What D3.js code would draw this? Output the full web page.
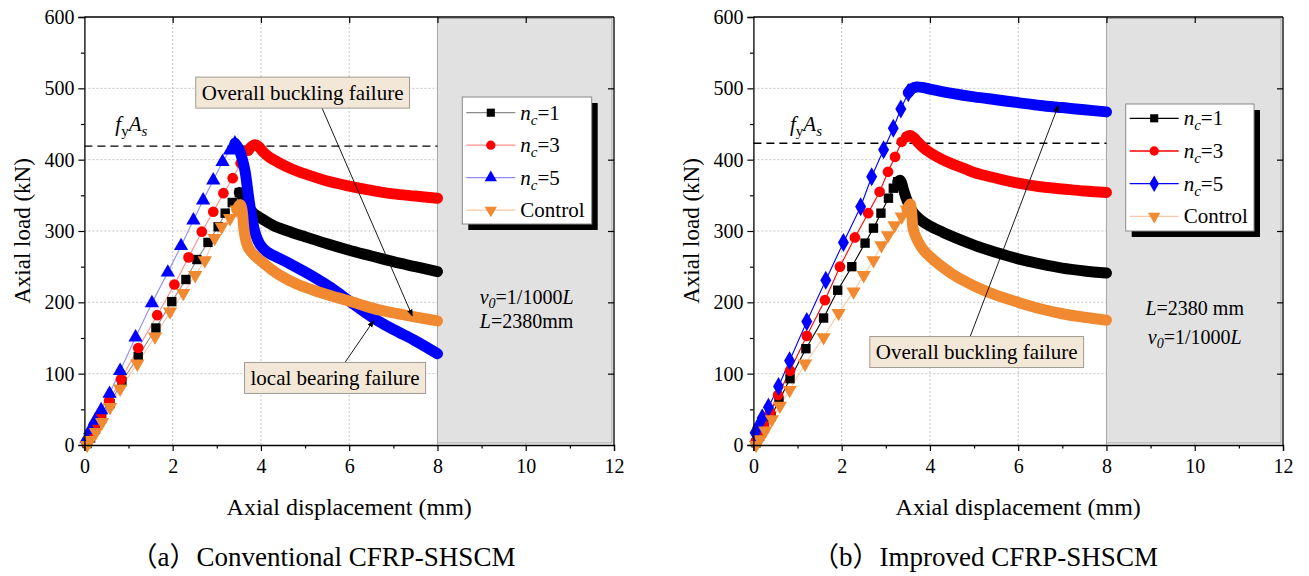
<!DOCTYPE html>
<html><head><meta charset="utf-8">
<script src="https://cdn.jsdelivr.net/npm/d3@7"></script>
<style>
body{margin:0;background:#fff}
svg{display:block}
svg text{font-family:"Liberation Serif","Tinos","Times New Roman","DejaVu Serif","Noto Serif",serif;fill:#000}
</style>
</head><body><svg id="c" width="1309" height="576"></svg>
<script>
// ---------------- data ----------------
const xTicks = [0, 2, 4, 6, 8, 10, 12];
const yTicks = [0, 100, 200, 300, 400, 500, 600];
const seriesLabels = ["1", "3", "5", "Control"];

// (a) Conventional CFRP-SHSCM  [displacement mm, load kN]
const aN1Rise = [[0.06,2],[0.14,10],[0.25,22],[0.39,37],[0.58,58],[0.85,89],[1.22,124],[1.62,164],[1.98,201],[2.30,232],[2.55,260],[2.80,284],[3.03,306],[3.19,325],[3.35,340],[3.51,354]];
const aN1Post = [[3.51,354],[3.55,352],[3.6,345],[3.7,334],[3.85,324],[4,318],[4.3,307],[4.7,298],[5,292],[5.5,282],[6,273],[6.5,265],[7,257],[7.5,250],[8,243]];
const aN3Rise = [[0.05,3],[0.13,12],[0.23,24],[0.37,40],[0.56,62],[0.83,92],[1.22,136],[1.65,182],[2.04,225],[2.36,263],[2.66,299],[2.92,327],[3.15,353],[3.36,374],[3.54,395],[3.71,413]];
const aN3Post = [[3.71,413],[3.8,419],[3.87,421],[3.95,418],[4.05,411],[4.2,403],[4.4,396],[4.7,387],[5,380],[5.5,370],[6,363],[6.5,357],[7,352],[7.5,349],[8,346]];
const aN5Rise = [[0.05,9],[0.13,21],[0.24,34],[0.38,49],[0.57,72],[0.81,104],[1.16,151],[1.53,199],[1.89,242],[2.19,279],[2.47,315],[2.69,343],[2.92,371],[3.13,397],[3.3,413],[3.41,423]];
const aN5Post = [[3.41,423],[3.5,415],[3.58,400],[3.64,384],[3.72,348],[3.79,320],[3.88,295],[3.98,281],[4.13,271],[4.6,256],[5.19,236],[5.6,220],[6,202],[6.55,178],[7,162],[7.5,146],[8,128]];
const aCtrlRise = [[0.06,0],[0.14,7],[0.26,18],[0.4,32],[0.58,53],[0.81,79],[1.2,114],[1.6,152],[1.94,187],[2.24,213],[2.51,238],[2.73,259],[2.95,290],[3.11,306],[3.3,318],[3.45,330]];
const aCtrlPost = [[3.45,330],[3.53,337],[3.57,330],[3.61,305],[3.65,289],[3.72,276],[3.85,266],[4,258],[4.2,248],[4.43,238],[4.8,226],[5.19,217],[5.6,209],[5.94,203],[6.3,196],[6.7,189],[7.1,184],[7.45,180],[8,174]];
const aYieldLoad = 419;

// (b) Improved CFRP-SHSCM
const bN1Rise = [[0.06,3],[0.14,12],[0.25,24],[0.4,40],[0.58,62],[0.83,93],[1.19,135],[1.59,178],[1.91,217],[2.23,250],[2.53,283],[2.72,304],[2.89,325],[3.06,346],[3.17,360],[3.27,369]];
const bN1Post = [[3.27,369],[3.33,371],[3.4,358],[3.48,343],[3.56,332],[3.66,323],[3.8,315],[4,307],[4.3,298],[4.68,288],[5.1,278],[5.5,270],[6,261],[6.5,254],[7,248],[7.5,244],[8,241]];
const bN3Rise = [[0.05,5],[0.13,15],[0.24,28],[0.38,46],[0.56,70],[0.83,104],[1.21,153],[1.62,203],[1.96,250],[2.3,291],[2.6,325],[2.86,355],[3.05,383],[3.21,404],[3.36,425],[3.47,432]];
const bN3Post = [[3.47,432],[3.55,434],[3.63,431],[3.72,425],[3.85,417],[4,410],[4.25,401],[4.5,394],[4.8,387],[5,382],[5.5,374],[6,367],[6.5,362],[7,359],[7.5,356],[8,354]];
const bN5Rise = [[0.04,17],[0.1,25],[0.2,38],[0.34,53],[0.57,82],[0.82,118],[1.21,173],[1.64,231],[2.04,284],[2.43,334],[2.68,376],[2.95,414],[3.17,444],[3.34,471],[3.51,494]];
const bN5Post = [[3.51,494],[3.6,500],[3.7,502],[3.85,501],[4,499],[4.5,493],[5,488],[5.5,484],[6,480],[6.5,476],[7,473],[7.5,470],[8,467]];
const bCtrlRise = [[0.06,0],[0.15,8],[0.27,20],[0.42,36],[0.6,55],[0.82,77],[1.17,114],[1.59,151],[1.93,185],[2.27,215],[2.5,238],[2.72,259],[2.9,280],[3.05,294],[3.2,308],[3.36,320],[3.48,330]];
const bCtrlPost = [[3.48,330],[3.55,338],[3.58,330],[3.62,303],[3.7,289],[3.8,278],[3.9,270],[4,264],[4.25,251],[4.5,240],[4.75,231],[5,223],[5.5,210],[6,200],[6.5,191],[7,184],[7.5,179],[8,175]];
const bYieldLoad = 423;

// ---------------- drawing ----------------
const svg = d3.select("#c");
const FF = '"Liberation Serif","Tinos","Times New Roman","DejaVu Serif","Noto Serif",serif';
const C_BLACK = "#000000", C_RED = "#ff0000", C_BLUE = "#0000ff", C_ORANGE = "#f0892f";

const defs = svg.append("defs");
defs.append("marker").attr("id","arr").attr("viewBox","0 0 10 10").attr("refX",9).attr("refY",5)
  .attr("markerWidth",7).attr("markerHeight",7).attr("orient","auto-start-reverse")
  .attr("markerUnits","userSpaceOnUse")
  .append("path").attr("d","M0,1 L10,5 L0,9 Z").attr("fill","#000");

function symbolPath(kind, size){
  if (kind === "square") return d3.symbol(d3.symbolSquare, size)();
  if (kind === "circle") return d3.symbol(d3.symbolCircle, size)();
  if (kind === "tri") return d3.symbol(d3.symbolTriangle, size)();
  if (kind === "diamond") return d3.symbol(d3.symbolDiamond, size)();
  if (kind === "down") return d3.symbol(d3.symbolTriangle, size)();
}
const symSize = {square:88, circle:90, tri:88, diamond:105, down:88};

function drawPanel(cfg){
  const g = svg.append("g").attr("font-family", FF);
  const x = d3.scaleLinear().domain([0,12]).range([cfg.left, cfg.left + 529.6]);
  const y = d3.scaleLinear().domain([0,600]).range([445, 17]);

  // grid
  g.append("g").selectAll("line").data(xTicks.slice(1,-1)).join("line")
    .attr("x1", d=>x(d)).attr("x2", d=>x(d)).attr("y1", y(0)).attr("y2", y(600))
    .attr("stroke","#c4c4c4").attr("stroke-width",1).attr("stroke-dasharray","2,2");
  g.append("g").selectAll("line").data(yTicks.slice(1,-1)).join("line")
    .attr("x1", x(0)).attr("x2", x(12)).attr("y1", d=>y(d)).attr("y2", d=>y(d))
    .attr("stroke","#c4c4c4").attr("stroke-width",1).attr("stroke-dasharray","2,2");

  // gray region
  g.append("rect").attr("x", x(8)).attr("y", y(600)+1.5)
    .attr("width", x(12)-x(8)-2).attr("height", y(0)-y(600)-3.5)
    .attr("fill","#e1e1e1").attr("stroke","#a6a6a6").attr("stroke-width",1);

  // yield line
  g.append("line").attr("x1", x(0)).attr("x2", x(8)).attr("y1", y(cfg.yieldLoad)).attr("y2", y(cfg.yieldLoad))
    .attr("stroke","#000").attr("stroke-width",1.4).attr("stroke-dasharray","8,5");
  const fy = g.append("text").attr("x", x(cfg.fyPos[0])).attr("y", y(cfg.fyPos[1])).attr("font-size",21);
  fy.append("tspan").attr("font-style","italic").text("f");
  fy.append("tspan").attr("dy",5).attr("font-size",15).text("y");
  fy.append("tspan").attr("dy",-5).attr("font-style","italic").text("A");
  fy.append("tspan").attr("dy",5).attr("font-size",15).attr("font-style","italic").text("s");

  const line = d3.line().x(d=>x(d[0])).y(d=>y(d[1]));
  const band = d3.line().x(d=>x(d[0])).y(d=>y(d[1])).curve(d3.curveCatmullRom.alpha(0.5));

  cfg.series.forEach(s=>{
    g.append("path").attr("d", line(s.rise)).attr("fill","none")
      .attr("stroke", s.lineColor).attr("stroke-width",1.1);
  });
  cfg.series.forEach(s=>{
    g.append("path").attr("d", band(s.post)).attr("fill","none")
      .attr("stroke", s.color).attr("stroke-width", s.bandW || 10)
      .attr("stroke-linejoin","round").attr("stroke-linecap","round");
    g.append("g").selectAll("path").data(s.rise).join("path")
      .attr("d", symbolPath(s.sym, symSize[s.sym]))
      .attr("transform", d=>`translate(${x(d[0])},${y(d[1])})` + (s.sym==="down" ? " rotate(180)" : ""))
      .attr("fill", s.color);
  });

  // frame lines
  const fr = g.append("g").attr("stroke","#000").attr("stroke-width",1.3).attr("fill","none");
  fr.append("line").attr("x1",x(0)).attr("x2",x(12)).attr("y1",y(600)).attr("y2",y(600));
  fr.append("line").attr("x1",x(12)).attr("x2",x(12)).attr("y1",y(600)).attr("y2",y(0));

  // axes
  const styleAxis = sel => {
    sel.attr("font-family", FF).attr("font-size", 20);
    sel.selectAll("path.domain").attr("stroke","#000").attr("stroke-width",1.3);
    sel.selectAll(".tick line").attr("stroke","#000").attr("stroke-width",1.2);
    sel.selectAll(".tick text").attr("fill","#000");
  };
  g.append("g").attr("transform",`translate(0,${y(0)})`)
    .call(d3.axisBottom(x).tickValues(xTicks).tickSize(6).tickPadding(8).tickFormat(d3.format("d")))
    .call(styleAxis);
  g.append("g").attr("transform",`translate(0,${y(0)})`)
    .call(d3.axisBottom(x).tickValues([1,3,5,7,9,11]).tickSize(3.5).tickFormat(""))
    .call(styleAxis).select("path.domain").remove();
  g.append("g").attr("transform",`translate(${x(0)},0)`)
    .call(d3.axisLeft(y).tickValues(yTicks).tickSize(6).tickPadding(4).tickFormat(d3.format("d")))
    .call(styleAxis);
  g.append("g").attr("transform",`translate(${x(0)},0)`)
    .call(d3.axisLeft(y).tickValues([50,150,250,350,450,550]).tickSize(3.5).tickFormat(""))
    .call(styleAxis).select("path.domain").remove();
  g.append("g").attr("transform",`translate(0,${y(600)})`)
    .call(d3.axisTop(x).tickValues(xTicks.slice(1,-1)).tickSize(-6).tickFormat(""))
    .call(styleAxis).select("path.domain").remove();
  g.append("g").attr("transform",`translate(${x(12)},0)`)
    .call(d3.axisRight(y).tickValues(yTicks.slice(1,-1)).tickSize(-6).tickFormat(""))
    .call(styleAxis).select("path.domain").remove();

  // axis titles
  g.append("text").attr("x", (x(0)+x(12))/2).attr("y", 515).attr("text-anchor","middle")
    .attr("font-size",24).text("Axial displacement (mm)");
  g.append("text").attr("transform",`translate(${x(0)-54},${(y(0)+y(600))/2}) rotate(-90)`)
    .attr("text-anchor","middle").attr("font-size",23).text("Axial load (kN)");
  // caption
  g.append("text").attr("x", cfg.capX).attr("y", 566).attr("text-anchor","middle")
    .attr("font-size",27)
    .style("font-family",'"Liberation Serif","Tinos","Times New Roman","Noto Sans CJK SC",serif').text(cfg.caption);

  // legend
  const L = cfg.legend;
  const lg = g.append("g");
  lg.append("rect").attr("x", L.x+6).attr("y", L.y+6).attr("width", L.w).attr("height", L.h).attr("fill","#000");
  lg.append("rect").attr("x", L.x).attr("y", L.y).attr("width", L.w).attr("height", L.h)
    .attr("fill","#fff").attr("stroke","#8a8a8a").attr("stroke-width",1);
  cfg.series.forEach((s,i)=>{
    const cy = L.y + L.first + i*L.step;
    lg.append("line").attr("x1", L.x+4).attr("x2", L.x+53).attr("y1", cy).attr("y2", cy)
      .attr("stroke", s.lineColor).attr("stroke-width",1.3);
    lg.append("path").attr("d", symbolPath(s.sym, symSize[s.sym]*0.75))
      .attr("transform", `translate(${L.x+28.5},${cy})` + (s.sym==="down" ? " rotate(180)" : ""))
      .attr("fill", s.color);
    const t = lg.append("text").attr("x", L.x+58).attr("y", cy+7).attr("font-size",21);
    if (s.label === "Control") { t.text("Control"); }
    else {
      t.append("tspan").attr("font-style","italic").text("n");
      t.append("tspan").attr("font-style","italic").attr("font-size",15).attr("dy",5).text("c");
      t.append("tspan").attr("dy",-5).text("=" + s.label);
    }
  });

  // parameter notes in gray region
  cfg.notes.forEach((n,i)=>{
    const t = g.append("text").attr("x", x(n.xv)).attr("y", y(n.yv)).attr("text-anchor","middle").attr("font-size",20);
    n.parts.forEach(p=>{
      const ts = t.append("tspan").text(p.t);
      if (p.i) ts.attr("font-style","italic");
      if (p.sub) ts.attr("font-size",14).attr("dy",4);
      if (p.up) ts.attr("dy",-4);
    });
  });

  // annotations
  cfg.annots.forEach(a=>{
    g.append("line").attr("x1", x(a.from[0])).attr("y1", y(a.from[1]))
      .attr("x2", x(a.to[0])).attr("y2", y(a.to[1]))
      .attr("stroke","#000").attr("stroke-width",0.9).attr("marker-end","url(#arr)");
    const t = g.append("text").attr("x", x(a.cx)).attr("y", y(a.cy)+7).attr("text-anchor","middle")
      .attr("font-size",21).text(a.text);
    const bb = t.node().getBBox();
    g.insert("rect", () => t.node())
      .attr("x", bb.x-6).attr("y", y(a.cy)-15.5).attr("width", bb.width+12).attr("height", 31)
      .attr("fill","#f3e8d8").attr("stroke","#a09a92").attr("stroke-width",1);
  });
}

drawPanel({
  left: 84.4, yieldLoad: aYieldLoad, fyPos:[0.7,440],
  caption:"（a）Conventional CFRP-SHSCM", capX: 323,
  series:[
    {label:seriesLabels[0], rise:aN1Rise, post:aN1Post, color:C_BLACK, lineColor:"#8c8c8c", sym:"square", bandW:11},
    {label:seriesLabels[1], rise:aN3Rise, post:aN3Post, color:C_RED, lineColor:"#ff8c8c", sym:"circle", bandW:11},
    {label:seriesLabels[2], rise:aN5Rise, post:aN5Post, color:C_BLUE, lineColor:"#8c8cff", sym:"tri", bandW:11},
    {label:seriesLabels[3], rise:aCtrlRise, post:aCtrlPost, color:C_ORANGE, lineColor:"#f9c7a6", sym:"down", bandW:11}
  ],
  legend:{x:462.3, y:97, w:129.4, h:127, first:15.7, step:32.5},
  notes:[
    {xv:10.02, yv:198, parts:[{t:"v",i:true},{t:"0",i:true,sub:true},{t:"=1/1000",up:true},{t:"L",i:true}]},
    {xv:10.02, yv:164, parts:[{t:"L",i:true},{t:"=2380mm"}]}
  ],
  annots:[
    {text:"Overall buckling failure", cx:4.945, cy:494, from:[5.38,473], to:[7.43,181]},
    {text:"local bearing failure", cx:5.68, cy:94, from:[5.9,115.3], to:[6.55,174]}
  ]
});

drawPanel({
  left: 753.4, yieldLoad: bYieldLoad, fyPos:[0.83,440],
  caption:"（b）Improved CFRP-SHSCM", capX: 985,
  series:[
    {label:seriesLabels[0], rise:bN1Rise, post:bN1Post, color:C_BLACK, lineColor:C_BLACK, sym:"square", bandW:11},
    {label:seriesLabels[1], rise:bN3Rise, post:bN3Post, color:C_RED, lineColor:C_RED, sym:"circle", bandW:11},
    {label:seriesLabels[2], rise:bN5Rise, post:bN5Post, color:C_BLUE, lineColor:C_BLUE, sym:"diamond", bandW:11},
    {label:seriesLabels[3], rise:bCtrlRise, post:bCtrlPost, color:C_ORANGE, lineColor:"#f9c7a6", sym:"down", bandW:11}
  ],
  legend:{x:1125.7, y:104, w:128.3, h:127, first:14.3, step:32.7},
  notes:[
    {xv:10.0, yv:182, parts:[{t:"L",i:true},{t:"=2380 mm"}]},
    {xv:10.0, yv:141, parts:[{t:"v",i:true},{t:"0",i:true,sub:true},{t:"=1/1000",up:true},{t:"L",i:true}]}
  ],
  annots:[
    {text:"Overall buckling failure", cx:5.06, cy:130.3, from:[4.91,151.8], to:[6.91,476]}
  ]
});
</script>
</body></html>
